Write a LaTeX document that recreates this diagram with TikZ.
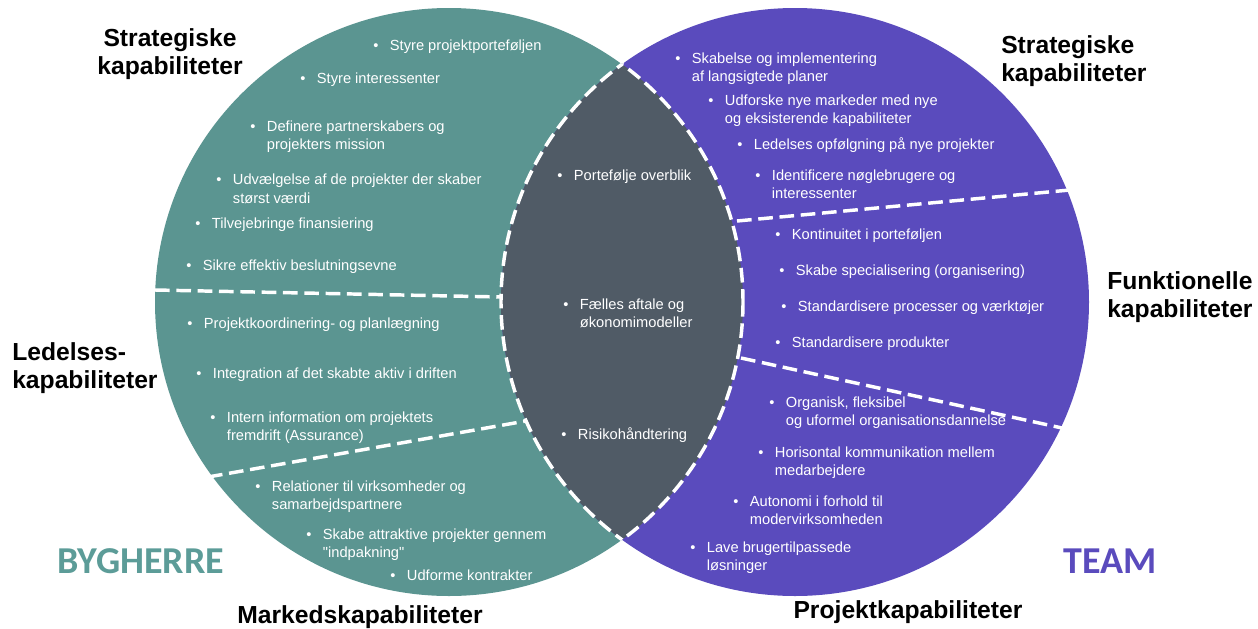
\documentclass[tikz,border=0pt]{standalone}
\usepackage{fontspec}
\setmainfont{Liberation Sans}
\newfontfamily\calfont{Carlito}
\definecolor{bygteal}{HTML}{5B9591}
\definecolor{teampurple}{HTML}{5A4BBD}
\definecolor{lensgrey}{HTML}{505B66}
\definecolor{byglabel}{HTML}{5C9C98}
\newcommand{\bul}{\makebox[12.5pt][l]{\textbullet}}
\newcommand{\ind}{\hspace*{12.5pt}}

\begin{document}
\begin{tikzpicture}[x=0.75pt, y=-0.75pt, line join=round, >=stealth]
	\tikzset{itm/.style={anchor=west, inner sep=0pt, text=white, align=left, font=\fontsize{11}{13.8}\selectfont},
		headtxt/.style={inner sep=0pt, font=\fontsize{18.5}{21}\selectfont\bfseries},
		bigtxt/.style={inner sep=0pt, font=\fontsize{28.5}{30}\selectfont\calfont\bfseries},
		divider/.style={white, line width=2.6pt, dash pattern=on 11pt off 5pt}}
	\useasboundingbox (0,0) rectangle (1258,629);
	\coordinate (L) at (449,302);
	\coordinate (R) at (795,302);
	\fill[bygteal] (L) circle (294);
	\fill[teampurple] (R) circle (294);
	% overlap
	\begin{scope}
		\clip (L) circle (294);
		\fill[lensgrey] (R) circle (294);
		\draw[divider] (R) circle (294);
	\end{scope}
	\begin{scope}
		\clip (R) circle (294);
		\draw[divider] (L) circle (294);
	\end{scope}
	% dividers
	\coordinate (d1a) at (155,290); \coordinate (d1b) at (501,297);
	\coordinate (d2a) at (208,477); \coordinate (d2b) at (526,421);
	\coordinate (d3a) at (737,221); \coordinate (d3b) at (1070,190);
	\coordinate (d4a) at (741,358); \coordinate (d4b) at (1062,428);
	\foreach \a/\b in {d1a/d1b, d2a/d2b, d3a/d3b, d4a/d4b} \draw[divider] (\a)--(\b);
	% bygherre
	\foreach \nx/\ny/\txt [count=\i] in {373/47/{Styre projektporteføljen}, 300/80/{Styre interessenter},
		250/136.5/{Definere partnerskabers og\\\ind projekters mission},
		216/189/{Udvælgelse af de projekter der skaber\\\ind størst værdi},
		195/225/{Tilvejebringe finansiering}, 186/267/{Sikre effektiv beslutningsevne},
		187/325/{Projektkoordinering- og planlægning}, 196/375/{Integration af det skabte aktiv i driften},
		210/427.5/{Intern information om projektets\\\ind fremdrift (Assurance)},
		255/497/{Relationer til virksomheder og\\\ind samarbejdspartnere},
		306/545/{Skabe attraktive projekter gennem\\\ind \textquotedbl indpakning\textquotedbl}, 390/575/{Udforme kontrakter}}
	\node[itm] (l\i) at (\nx,\ny) {\bul\txt};
	% faelles
	\foreach \nx/\ny/\txt [count=\i] in {557/177/{Portefølje overblik},
		563/313.5/{Fælles aftale og\\\ind økonomimodeller}, 561/435/{Risikohåndtering}}
	\node[itm] (m\i) at (\nx,\ny) {\bul\txt};
	% team
	\foreach \nx/\ny/\txt [count=\i] in {675/69/{Skabelse og implementering\\\ind af langsigtede planer},
		708/110.5/{Udforske nye markeder med nye\\\ind og eksisterende kapabiliteter},
		737/145/{Ledelses opfølgning på nye projekter},
		755/184/{Identificere nøglebrugere og\\\ind interessenter},
		775/236/{Kontinuitet i porteføljen}, 779/272/{Skabe specialisering (organisering)},
		781/308/{Standardisere processer og værktøjer}, 775/344/{Standardisere produkter},
		769/413/{Organisk, fleksibel\\\ind og uformel organisationsdannelse},
		758/462.5/{Horisontal kommunikation mellem\\\ind medarbejdere},
		733/510.5/{Autonomi i forhold til\\\ind modervirksomheden},
		690/557.5/{Lave brugertilpassede\\\ind løsninger}}
	\node[itm] (r\i) at (\nx,\ny) {\bul\txt};
	% headings
	\node[headtxt, align=center] (hsl) at (170,54) {Strategiske\\kapabiliteter};
	\node[headtxt, align=left, anchor=west] (hll) at (12,368) {Ledelses-\\kapabiliteter};
	\node[headtxt] (hml) at (360,617) {Markedskapabiliteter};
	\node[headtxt, align=left, anchor=west] (hsr) at (1001,61) {Strategiske\\kapabiliteter};
	\node[headtxt, align=left, anchor=west] (hfr) at (1107,297) {Funktionelle\\kapabiliteter};
	\node[headtxt] (hpr) at (908,612) {Projektkapabiliteter};
	\node[bigtxt, text=byglabel] (byg) at (141,561) {BYGHERRE};
	\node[bigtxt, text=teampurple] (team) at (1110,561) {TEAM};
\end{tikzpicture}
\end{document}
